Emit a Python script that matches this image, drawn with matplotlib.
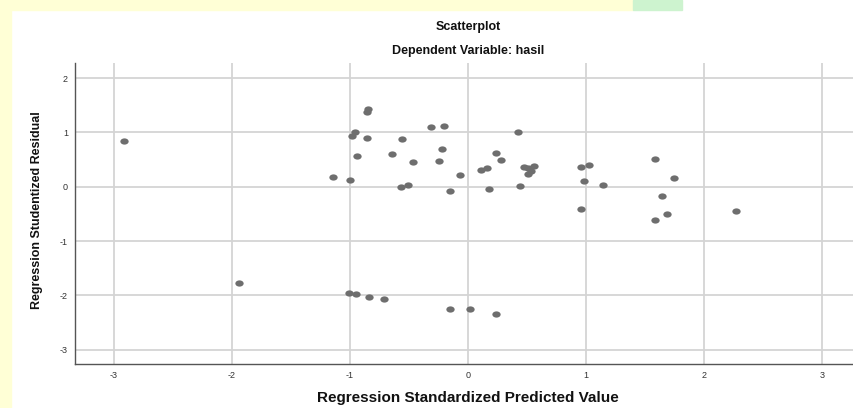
"""
    Scatterplot residual vs predicted (hasil)
"""
import matplotlib
matplotlib.use("Agg")
import matplotlib.pyplot as plt
from matplotlib.patches import Rectangle
from matplotlib.path import Path
from matplotlib.transforms import Affine2D

plt.rcParams['font.family'] = ['Liberation Sans', 'DejaVu Sans']
plt.rcParams['axes.unicode_minus'] = False

# data
pred = [-2.91, -1.94, -1.14, -1.00, -0.98, -0.96, -0.94, -0.86, -0.86, -0.845,
        -0.56, -0.644, -0.47, -0.57, -0.51, -0.31, -0.20, -0.22, -0.25, -0.15,
        -0.07, 0.11, 0.16, 0.237, 0.277, 0.175, 0.42, 0.44, 0.47, 0.51,
        0.56, 0.51, 0.53, 0.955, 1.02, 0.98, 0.96, 1.14, 1.58, 1.74,
        1.64, 1.68, 1.58, 2.27, -1.005, -0.95, -0.84, -0.71, -0.15, 0.02,
        0.24]
resid = [0.84, -1.78, 0.17, 0.12, 0.93, 1.01, 0.565, 0.89, 1.37, 1.43,
         0.87, 0.61, 0.46, -0.01, 0.04, 1.10, 1.12, 0.69, 0.47, -0.07,
         0.215, 0.31, 0.35, 0.62, 0.50, -0.04, 1.00, 0.02, 0.36, 0.35,
         0.375, 0.24, 0.28, 0.37, 0.40, 0.10, -0.41, 0.025, 0.51, 0.155,
         -0.18, -0.51, -0.62, -0.44, -1.95, -1.97, -2.03, -2.06, -2.26, -2.25,
         -2.35]
ticks = [-3, -2, -1, 0, 1, 2, 3]

fig = plt.figure(figsize=(8.54, 4.08), dpi=100)
fig.patch.set_facecolor("white")

# yellow / green background strips around the screenshot
fig.add_artist(Rectangle((0, 0), 11/854, 1, transform=fig.transFigure,
                         color="#FFFFD6", zorder=0))
fig.add_artist(Rectangle((0, 1-10/408), 633/854, 10/408, transform=fig.transFigure,
                         color="#FFFFD6", zorder=0))
fig.add_artist(Rectangle((633/854, 1-10/408), 49/854, 10/408, transform=fig.transFigure,
                         color="#CDF3CF", zorder=0))

ax = fig.add_axes([75/854, 44/408, (854-75)/854, (364-63)/408])

# slightly flattened dot like the screenshot
dot = Path.unit_circle().transformed(Affine2D().scale(1, 0.75))
ax.scatter(pred, resid, s=36, marker=dot, color="#6E6E6E", linewidths=0, zorder=3)

ax.set_xlim(-3.328, 3.267)
ax.set_ylim(-3.265, 2.278)
ax.set_xticks(ticks)
ax.set_yticks(ticks[:-1])
ax.grid(True, color="#D4D4D4", linewidth=1.3)
ax.set_axisbelow(True)
ax.tick_params(length=0, labelsize=6.5, colors="#333333", pad=5)
for s in ["top", "right"]:
    ax.spines[s].set_visible(False)
for s in ["left", "bottom"]:
    ax.spines[s].set_color("#555555")
    ax.spines[s].set_linewidth(1.0)

ax.set_xlabel("Regression Standardized Predicted Value", fontsize=11,
              fontweight="bold", color="#111111", va="center")
ax.xaxis.set_label_coords(0.5045, -0.113)
ax.set_ylabel("Regression Studentized Residual", fontsize=9,
              fontweight="bold", color="#111111", va="center")
ax.yaxis.set_label_coords(-0.0488, 0.512)

fig.text(468/854, 1-27/408, "Scatterplot", ha="center", va="center",
         fontsize=9, fontweight="bold", color="#111111")
fig.text(468/854, 1-51/408, "Dependent Variable: hasil", ha="center", va="center",
         fontsize=9, fontweight="bold", color="#111111")

plt.savefig("out.png", dpi=100)
